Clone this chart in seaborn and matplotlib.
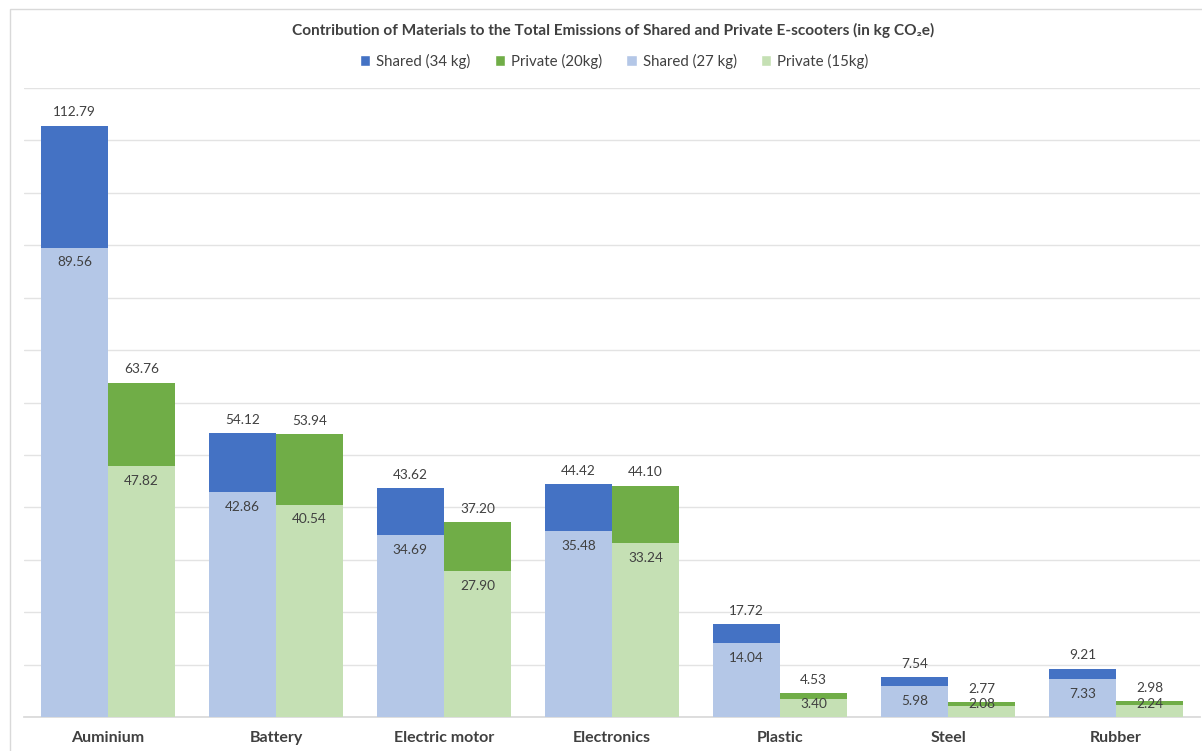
import pandas as pd
import numpy as np

import seaborn as sns
from matplotlib import pyplot as plt
from matplotlib.patches import Patch, Rectangle

# values (kg CO2e)
materials = ["Auminium", "Battery", "Electric motor", "Electronics", "Plastic", "Steel", "Rubber"]
shared_34 = [112.79, 54.12, 43.62, 44.42, 17.72, 7.54, 9.21]
private_20 = [63.76, 53.94, 37.20, 44.10, 4.53, 2.77, 2.98]
shared_27 = [89.56, 42.86, 34.69, 35.48, 14.04, 5.98, 7.33]
private_15 = [47.82, 40.54, 27.90, 33.24, 3.40, 2.08, 2.24]

series_names = ["Shared (34 kg)", "Private (20kg)", "Shared (27 kg)", "Private (15kg)"]
dark_colors = ["#4472C4", "#70AD47"]
light_colors = ["#B4C7E7", "#C5E0B4"]
text_color = "#404040"

sns.set_theme(style="white")
plt.rcParams['font.family'] = ['Lato', 'DejaVu Sans']

df = pd.DataFrame({
    "material": materials * 2,
    "type": ["Shared"] * len(materials) + ["Private"] * len(materials),
    "upper": shared_34 + private_20,
    "lower": shared_27 + private_15,
})

fig = plt.figure(figsize=(12.02, 7.51), dpi=100)
ax = fig.add_axes([24 / 1202, 1 - 717 / 751, 1176 / 1202, 629 / 751])

# upper scenario drawn full height, lower scenario drawn in front
sns.barplot(data=df, x="material", y="upper", hue="type", palette=dark_colors,
            width=0.8, saturation=1, linewidth=0, ax=ax, legend=False, zorder=2)
sns.barplot(data=df, x="material", y="lower", hue="type", palette=light_colors,
            width=0.8, saturation=1, linewidth=0, ax=ax, legend=False, zorder=3)

ax.set_ylim(0, 120)
ax.set_xlim(-0.5, len(materials) - 0.5)
ax.set_yticks(np.arange(0, 121, 10))
ax.set_yticklabels([])
ax.tick_params(axis="y", length=0)
ax.tick_params(axis="x", length=0, pad=10, labelsize=11.5, labelcolor=text_color)
for lbl in ax.get_xticklabels():
    lbl.set_fontweight("bold")
ax.set_xlabel("")
ax.set_ylabel("")
ax.grid(axis="y", color="#E3E3E3", linewidth=1, zorder=0)
ax.set_axisbelow(True)
for s in ["top", "right", "left"]:
    ax.spines[s].set_visible(False)
ax.spines["bottom"].set_color("#D9D9D9")

# data labels
offsets = [-0.2, 0.2]
for j, (up_vals, low_vals) in enumerate([(shared_34, shared_27), (private_20, private_15)]):
    for i in range(len(materials)):
        x = i + offsets[j]
        ax.text(x, up_vals[i] + 2.55, f"{up_vals[i]:.2f}", ha="center", va="center",
                fontsize=9.8, color=text_color, zorder=5)
        ax.text(x, max(low_vals[i] - 2.85, 2.45), f"{low_vals[i]:.2f}", ha="center", va="center",
                fontsize=9.8, color=text_color, zorder=5)

fig.text(0.510, 1 - 30 / 751, "Contribution of Materials to the Total Emissions of Shared and Private E-scooters (in kg CO\u2082e)",
         ha="center", va="center", fontsize=11.1, fontweight="bold", color=text_color)

handles = [Patch(facecolor=c) for c in dark_colors + light_colors]
fig.legend(handles, series_names, loc="center", bbox_to_anchor=(0.511, 1 - 61 / 751), ncol=4,
           frameon=False, fontsize=10.8, labelcolor=text_color, handlelength=0.7, handleheight=0.7,
           handletextpad=0.4, columnspacing=1.6)

# chart area border
fig.patches.append(Rectangle((10 / 1202, -0.1), 1.2, 1 - 9 / 751 + 0.1, transform=fig.transFigure,
                             fill=False, edgecolor="#D9D9D9", linewidth=1))

plt.savefig("out.png", dpi=100)
